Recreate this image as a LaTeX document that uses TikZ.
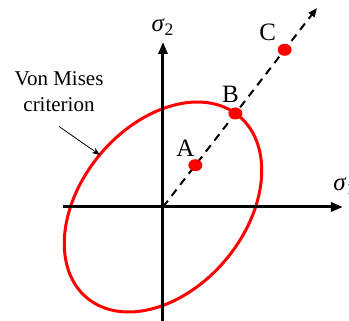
\documentclass[tikz,border=0pt]{standalone}
\usepackage{fontspec}
\setmainfont{Liberation Serif}
\usetikzlibrary{arrows.meta,positioning,calc,shapes.geometric}
\definecolor{vmred}{HTML}{FF0000}
\tikzset{
  axis/.style={line width=1.5pt, -{Triangle[length=6pt, width=4.5pt]}},
  path/.style={line width=1pt, dash pattern=on 4pt off 3pt, -{Triangle[length=4.5pt, width=3.5pt]}},
  yield/.style={draw=vmred, line width=1.5pt},
  pt/.style={ellipse, fill=vmred, minimum width=7pt, minimum height=6pt, inner sep=0pt},
  ptlab/.style={inner sep=0pt, font=\fontsize{12.5}{14}\selectfont},
  txt/.style={align=center, inner sep=0pt, font=\fontsize{10.5}{13}\selectfont},
}

\begin{document}
\begin{tikzpicture}[x=0.5pt,y=0.5pt]
  \useasboundingbox (-163,-114) rectangle (186,207);
  \coordinate (O) at (0,0);
  \coordinate (xl) at (-100,0);
  \coordinate (xr) at (180,0);
  \coordinate (yb) at (0,-125);
  \coordinate (yt) at (0,165);
  \coordinate (pend) at (154,199);
  % yield surface
  \draw[yield, rotate=50] (O) ellipse (118.5 and 82);
  % axes
  \draw[axis] (xl) -- (xr);
  \draw[axis] (yb) -- (yt);
  \node[ptlab, anchor=west] (s1) at (170,21) {\textit{σ}\textsubscript{1}};
  \node[ptlab, above=3pt of yt] (s2) {\textit{σ}\textsubscript{2}};
  % loading path
  \draw[path] (O) -- (pend);
  \node[pt] (dA) at ($(O)!0.21!(pend)$) {};
  \node[pt] (dB) at ($(O)!0.47!(pend)$) {};
  \node[pt] (dC) at ($(O)!0.79!(pend)$) {};
  \node[ptlab, above=1pt of dA, xshift=-5pt] (lA) {A};
  \node[ptlab, above=2pt of dB, xshift=-2.5pt] (lB) {B};
  \node[ptlab, above=1pt of dC, xshift=-8.5pt] (lC) {C};
  % label
  \node[txt] (vm) at (-104,115) {Von Mises\\criterion};
  \coordinate (vmtip) at (-63,52);
  \draw[-{Stealth[length=4pt, width=3pt]}, thin] ([yshift=-7pt]vm.south) -- (vmtip);
\end{tikzpicture}
\end{document}
